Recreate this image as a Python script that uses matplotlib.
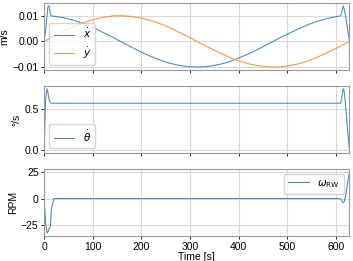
import matplotlib
matplotlib.use("Agg")
import matplotlib.pyplot as plt

plt.rcParams['font.family'] = ['Liberation Sans', 'DejaVu Sans']
plt.rcParams['font.size'] = 7.5
plt.rcParams['mathtext.fontset'] = 'dejavusans'

# время для x, theta и omega (с переходными участками в начале и в конце)
t_fine = [0, 3, 6, 8, 9.5, 11, 13, 15, 20, 40, 60, 80, 100, 120, 140, 160,
          180, 200, 220, 240, 260, 280, 300, 320, 340, 360, 380, 400, 420,
          440, 460, 480, 500, 520, 540, 560, 580, 600, 606, 610, 613, 615,
          617, 620, 624, 628]

x_dot = [0.0, 0.004, 0.010, 0.0135, 0.0139, 0.0133, 0.0105, 0.0099, 0.0098,
         0.0092, 0.0083, 0.0070, 0.0054, 0.0036, 0.0017, -0.0003, -0.0023,
         -0.0042, -0.0059, -0.0074, -0.0086, -0.0094, -0.0099, -0.0100,
         -0.0097, -0.0090, -0.0080, -0.0065, -0.0049, -0.0031, -0.0011,
         0.0009, 0.0028, 0.0046, 0.0063, 0.0077, 0.0088, 0.0096, 0.0098,
         0.0100, 0.0120, 0.0138, 0.0128, 0.0100, 0.0050, 0.0]

theta_dot = [0.0, 0.62, 0.75, 0.70, 0.64, 0.60, 0.58, 0.573, 0.573, 0.573,
             0.573, 0.573, 0.573, 0.573, 0.573, 0.573, 0.573, 0.573, 0.573,
             0.573, 0.573, 0.573, 0.573, 0.573, 0.573, 0.573, 0.573, 0.573,
             0.573, 0.573, 0.573, 0.573, 0.573, 0.573, 0.573, 0.573, 0.573,
             0.573, 0.573, 0.575, 0.68, 0.75, 0.72, 0.55, 0.25, 0.0]

omega_rw = [0.0, -22.0, -32.3, -31.0, -29.0, -27.5, -26.0, -10.0, 0.0, 0.0,
            0.0, 0.0, 0.0, 0.0, 0.0, 0.0, 0.0, 0.0, 0.0, 0.0, 0.0, 0.0, 0.0,
            0.0, 0.0, 0.0, 0.0, 0.0, 0.0, 0.0, 0.0, 0.0, 0.0, 0.0, 0.0, 0.0,
            0.0, 0.0, 0.0, -0.5, -3.0, -4.0, -3.0, 2.0, 14.0, 25.0]

# y-скорость - гладкая кривая
t_coarse = [0, 20, 40, 60, 80, 100, 120, 140, 160, 180, 200, 220, 240, 260,
            280, 300, 320, 340, 360, 380, 400, 420, 440, 460, 480, 500, 520,
            540, 560, 580, 600, 610, 620, 628]

y_dot = [0.0, 0.0020, 0.0039, 0.0056, 0.0072, 0.0084, 0.0093, 0.0099, 0.0100,
         0.0097, 0.0091, 0.0081, 0.0068, 0.0052, 0.0033, 0.0014, -0.0006,
         -0.0025, -0.0044, -0.0061, -0.0076, -0.0087, -0.0095, -0.0099,
         -0.0100, -0.0096, -0.0089, -0.0078, -0.0063, -0.0046, -0.0028,
         -0.0018, -0.0008, 0.0]

fig, axes = plt.subplots(3, 1, sharex=True, figsize=(3.53, 2.61), dpi=100)
fig.subplots_adjust(left=0.125, right=0.99, top=0.99, bottom=0.095, hspace=0.23)

lw = 0.75
axes[0].plot(t_fine, x_dot, color='tab:blue', lw=lw, alpha=0.85, label=r'$\dot{x}$')
axes[0].plot(t_coarse, y_dot, color='tab:orange', lw=lw, alpha=0.85, label=r'$\dot{y}$')
axes[0].set_ylabel('m/s', labelpad=2)
axes[0].legend(loc='lower left')

axes[1].plot(t_fine, theta_dot, color='tab:blue', lw=lw, alpha=0.85, label=r'$\dot{\theta}$')
axes[1].set_ylabel('\u00b0/s', labelpad=2)
axes[1].legend(loc='lower left')

axes[2].plot(t_fine, omega_rw, color='tab:blue', lw=lw, alpha=0.85, label=r'$\omega_{\mathrm{RW}}$')
axes[2].set_ylabel('RPM', labelpad=2)
axes[2].set_xlabel('Time [s]', labelpad=0)
axes[2].legend(loc='upper right')

for ax in axes:
    ax.set_xlim(0, 628)
    ax.grid(True, color='0.85', lw=0.8)
    ax.set_axisbelow(True)
    for s in ax.spines.values():
        s.set_color('0.6')
        s.set_linewidth(0.8)
    ax.tick_params(length=2.5, width=0.6, pad=1.5)

axes[0].set_yticks([-0.01, 0.0, 0.01])
axes[0].set_yticklabels(['\u22120.01', '0.00', '0.01'])
axes[1].set_yticks([0.0, 0.5])
axes[2].set_yticks([-25, 0, 25])
axes[2].set_xticks([0, 100, 200, 300, 400, 500, 600])

fig.savefig('out.png', dpi=100)
